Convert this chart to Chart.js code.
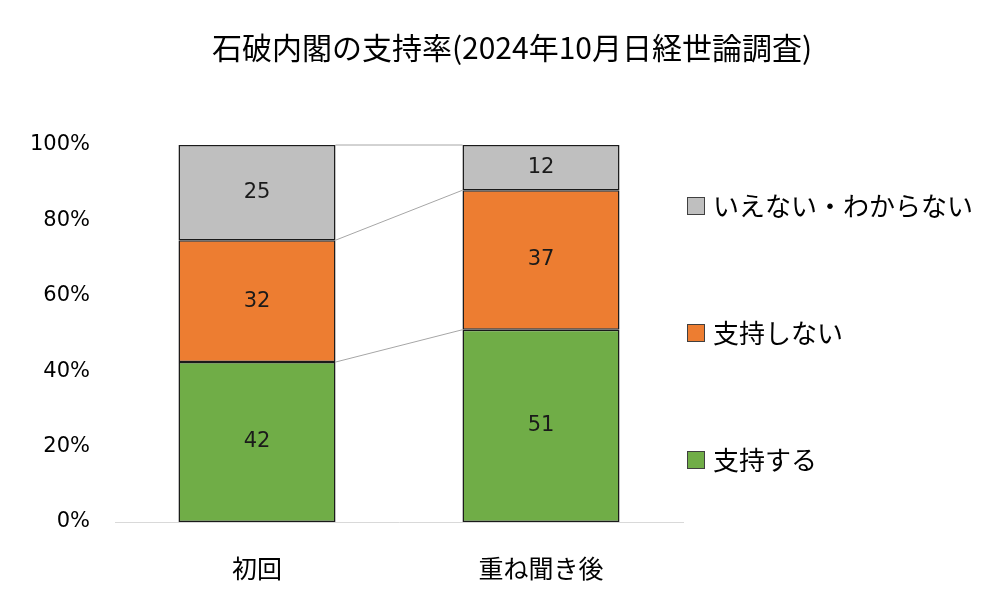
<!DOCTYPE html>
<html>
<head>
<meta charset="utf-8">
<script src="https://cdn.jsdelivr.net/npm/chart.js@4"></script>
<style>
    html, body { margin: 0; padding: 0; background: #fff; }
    #wrap { width: 1000px; height: 601px; }
</style>
</head>
<body>
<div id="wrap"><canvas id="supportChart"></canvas></div>
<script>
const chartTitle = '石破内閣の支持率(2024年10月日経世論調査)';
const categories = ['初回', '重ね聞き後'];
const seriesNames = ['支持する', '支持しない', 'いえない・わからない'];
const seriesColors = ['#70AD47', '#ED7D31', '#BFBFBF'];
const supportValues = [42, 51];
const opposeValues = [32, 37];
const unsureValues = [25, 12];
const yTicks = [0, 20, 40, 60, 80, 100];

const jpFont = '"Noto Sans CJK JP", "Noto Sans", sans-serif';
const numFont = '"DejaVu Sans", "Noto Sans CJK JP", sans-serif';

// 100% stacked: each category is scaled to its own total
const rawSeries = [supportValues, opposeValues, unsureValues];
const totals = categories.map((_, i) => rawSeries.reduce((s, arr) => s + arr[i], 0));

const datasets = rawSeries.map((values, k) => ({
    label: seriesNames[k],
    data: values.map((v, i) => v / totals[i] * 100),
    rawValues: values,
    backgroundColor: seriesColors[k],
    borderColor: '#1a1a1a',
    borderWidth: 1.5,
    borderSkipped: false,
    categoryPercentage: 1,
    barPercentage: 0.553
}));

const titlePlugin = {
    id: 'titleText',
    afterDraw(chart) {
        const ctx = chart.ctx;
        ctx.save();
        ctx.font = '30px ' + jpFont;
        ctx.fillStyle = '#000';
        ctx.textAlign = 'center';
        ctx.textBaseline = 'middle';
        ctx.fillText(chartTitle, 512, 48);
        ctx.restore();
    }
};

// Excel-style series lines between the stacked bars
const seriesLines = {
    id: 'seriesLines',
    beforeDatasetsDraw(chart) {
        const ctx = chart.ctx;
        ctx.save();
        ctx.strokeStyle = '#A6A6A6';
        ctx.lineWidth = 1;
        chart.data.datasets.forEach((ds, k) => {
            const bars = chart.getDatasetMeta(k).data;
            for (let i = 0; i < bars.length - 1; i++) {
                const a = bars[i], b = bars[i + 1];
                ctx.beginPath();
                ctx.moveTo(a.x + a.width / 2, a.y);
                ctx.lineTo(b.x - b.width / 2, b.y);
                ctx.stroke();
            }
        });
        ctx.restore();
    }
};

const barLabels = {
    id: 'barLabels',
    afterDatasetsDraw(chart) {
        const ctx = chart.ctx;
        ctx.save();
        ctx.font = '21px ' + numFont;
        ctx.fillStyle = '#1a1a1a';
        ctx.textAlign = 'center';
        ctx.textBaseline = 'middle';
        chart.data.datasets.forEach((ds, k) => {
            chart.getDatasetMeta(k).data.forEach((bar, i) => {
                ctx.fillText(String(ds.rawValues[i]), bar.x, (bar.y + bar.base) / 2);
            });
        });
        ctx.restore();
    }
};

const sideLegend = {
    id: 'sideLegend',
    afterDraw(chart) {
        const ctx = chart.ctx;
        const rowsY = [206, 333, 460];
        const items = chart.data.datasets.slice().reverse();
        ctx.save();
        ctx.font = '26px ' + jpFont;
        ctx.textAlign = 'left';
        ctx.textBaseline = 'middle';
        items.forEach((ds, j) => {
            const y = rowsY[j];
            ctx.fillStyle = ds.backgroundColor;
            ctx.fillRect(687, y - 9, 18, 18);
            ctx.strokeStyle = '#404040';
            ctx.lineWidth = 1;
            ctx.strokeRect(687.5, y - 8.5, 17, 17);
            ctx.fillStyle = '#000';
            ctx.fillText(ds.label, 713, y);
        });
        ctx.restore();
    }
};

new Chart(document.getElementById('supportChart'), {
    type: 'bar',
    data: { labels: categories, datasets },
    options: {
        responsive: true,
        maintainAspectRatio: false,
        animation: false,
        layout: { padding: { top: 145, right: 317, left: 0, bottom: 0 } },
        plugins: {
            legend: { display: false },
            title: { display: false },
            tooltip: { enabled: false }
        },
        scales: {
            x: {
                stacked: true,
                grid: { display: false, drawTicks: false },
                border: { color: '#D9D9D9', width: 1 },
                ticks: { color: '#000', padding: 31, font: { size: 25, family: jpFont } },
                afterFit(scale) { scale.height = 79; }
            },
            y: {
                stacked: true,
                min: 0,
                max: 100,
                grid: { display: false, drawTicks: false },
                border: { display: false },
                afterBuildTicks(scale) { scale.ticks = yTicks.map(v => ({ value: v })); },
                ticks: {
                    color: '#000',
                    padding: 25,
                    font: { size: 21, family: numFont },
                    callback: v => v + '%'
                },
                afterFit(scale) { scale.width = 115; }
            }
        }
    },
    plugins: [titlePlugin, seriesLines, barLabels, sideLegend]
});
</script>
</body>
</html>
